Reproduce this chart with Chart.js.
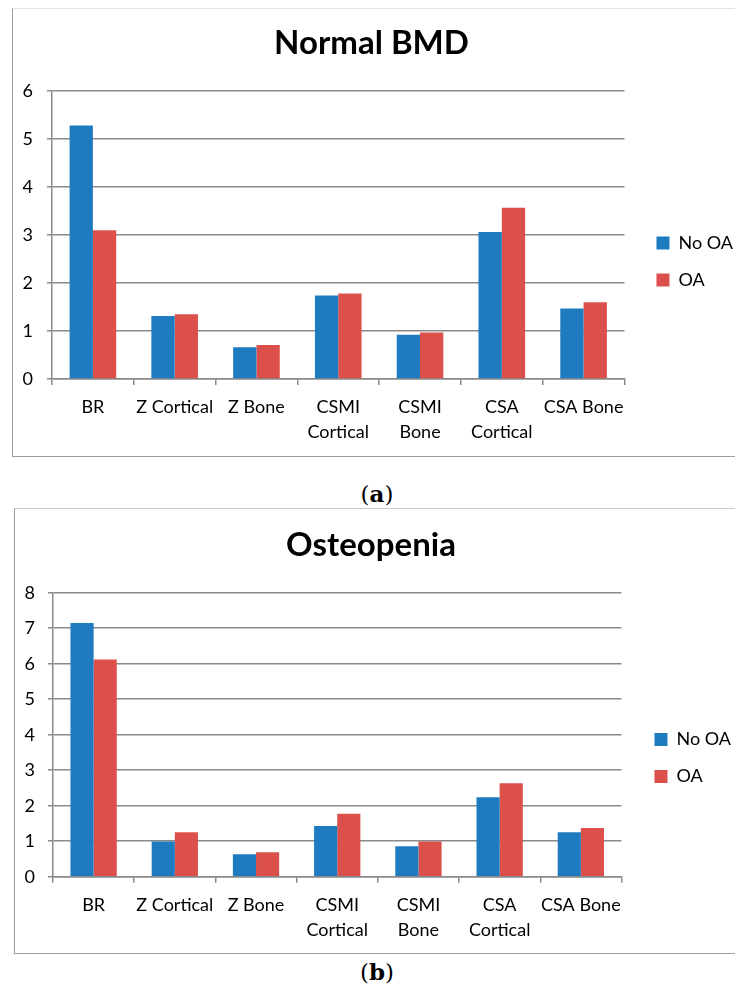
<!DOCTYPE html>
<html>
<head>
<meta charset="utf-8">
<script src="https://cdn.jsdelivr.net/npm/chart.js@4/dist/chart.umd.min.js"></script>
<style>
  html, body { margin: 0; padding: 0; background: #fff; overflow: hidden; }
  body { width: 735px; height: 986px; position: relative; font-family: Lato, sans-serif; }
  .panel { position: absolute; border-left: 1px solid #9c9c9c; border-bottom: 1px solid #9c9c9c; }
  #panelA { left: 12px; top: 8px; border-top: 1px solid #e2e2e2; }
  #panelB { left: 14px; top: 508px; border-top: 1px solid #c8c8c8; }
  .panel canvas { display: block; }
  .caption { position: absolute; left: 277px; width: 200px; text-align: center; line-height: 28px;
    font-family: "DejaVu Serif", "Liberation Serif", serif; font-size: 23px; color: #000; }
  .caption b { font-weight: bold; }
</style>
</head>
<body>
<div class="panel" id="panelA"><canvas id="chartA" width="730" height="447"></canvas></div>
<div class="caption" style="top: 480px;">(<b>a</b>)</div>
<div class="panel" id="panelB"><canvas id="chartB" width="726" height="444"></canvas></div>
<div class="caption" style="top: 958px;">(<b>b</b>)</div>

<script>
// chart data
const categories = ['BR', 'Z Cortical', 'Z Bone', ['CSMI', 'Cortical'], ['CSMI', 'Bone'], ['CSA', 'Cortical'], 'CSA Bone'];
const seriesNames = ['No OA', 'OA'];

const normalNoOA = [5.28, 1.31, 0.66, 1.74, 0.92, 3.06, 1.47];
const normalOA = [3.10, 1.35, 0.71, 1.78, 0.97, 3.57, 1.60];

const osteoNoOA = [7.15, 0.99, 0.63, 1.43, 0.86, 2.24, 1.25];
const osteoOA = [6.12, 1.25, 0.69, 1.77, 0.99, 2.63, 1.37];

const normalYMax = 6;
const osteoYMax = 8;

const colors = ['#1f7bbf', '#dc504c'];
const gridColor = '#8a8a8a';

// nudges the right-hand legend away from the plot, like the original
const legendShift = {
  id: 'legendShift',
  afterLayout(chart, args, opts) {
    const lg = chart.legend;
    if (!lg) return;
    lg.left += opts.dx; lg.right += opts.dx;
    lg.top += opts.dy; lg.bottom += opts.dy;
  }
};

function makeChart(id, title, noOA, oa, yMax, cfg) {
  const ctx = document.getElementById(id);
  return new Chart(ctx, {
    type: 'bar',
    data: {
      labels: categories,
      datasets: [
        { label: seriesNames[0], data: noOA, backgroundColor: colors[0] },
        { label: seriesNames[1], data: oa, backgroundColor: colors[1] }
      ]
    },
    plugins: [legendShift],
    options: {
      responsive: false,
      animation: false,
      devicePixelRatio: 1,
      categoryPercentage: 0.57,
      barPercentage: 1.0,
      layout: { padding: { left: 0, right: cfg.padRight, top: 0, bottom: 0 } },
      plugins: {
        title: {
          display: true,
          text: title,
          color: '#000',
          font: { family: 'Lato', size: 33, weight: 'bold', lineHeight: 1.2 },
          padding: { top: cfg.titleTop, bottom: cfg.titleBottom }
        },
        legend: {
          position: 'right',
          align: 'center',
          labels: {
            color: '#000',
            font: { family: 'Lato', size: 18 },
            boxWidth: 13,
            boxHeight: 13,
            padding: 19
          }
        },
        legendShift: { dx: cfg.legendDx, dy: cfg.legendDy },
        tooltip: { enabled: false }
      },
      scales: {
        x: {
          offset: true,
          grid: {
            offset: true,
            drawOnChartArea: false,
            drawTicks: true,
            tickLength: 6,
            color: gridColor,
            lineWidth: 1.5
          },
          border: { display: true, color: gridColor, width: 1.5 },
          ticks: {
            color: '#000',
            padding: 9.5,
            maxRotation: 0,
            autoSkip: false,
            font: { family: 'Lato', size: 18, lineHeight: 1.39 }
          },
          afterFit: (scale) => { scale.height = cfg.xHeight; }
        },
        y: {
          min: 0,
          max: yMax,
          grid: {
            color: gridColor,
            lineWidth: 1.5,
            drawTicks: true,
            tickLength: 5
          },
          border: { display: true, color: gridColor, width: 1.5 },
          ticks: {
            stepSize: 1,
            color: '#000',
            padding: cfg.yPad,
            font: { family: 'Lato', size: 18 }
          },
          afterFit: (scale) => { scale.width = cfg.yWidth; }
        }
      }
    }
  });
}

makeChart('chartA', 'Normal BMD', normalNoOA, normalOA, normalYMax, {
  padRight: 13, titleTop: 14.2, titleBottom: 28.2, xHeight: 77, yWidth: 39, yPad: 14,
  legendDx: 13, legendDy: 29
});

makeChart('chartB', 'Osteopenia', osteoNoOA, osteoOA, osteoYMax, {
  padRight: 14, titleTop: 16.2, titleBottom: 27.9, xHeight: 76.3, yWidth: 38, yPad: 13,
  legendDx: 14, legendDy: 27
});
</script>
</body>
</html>
